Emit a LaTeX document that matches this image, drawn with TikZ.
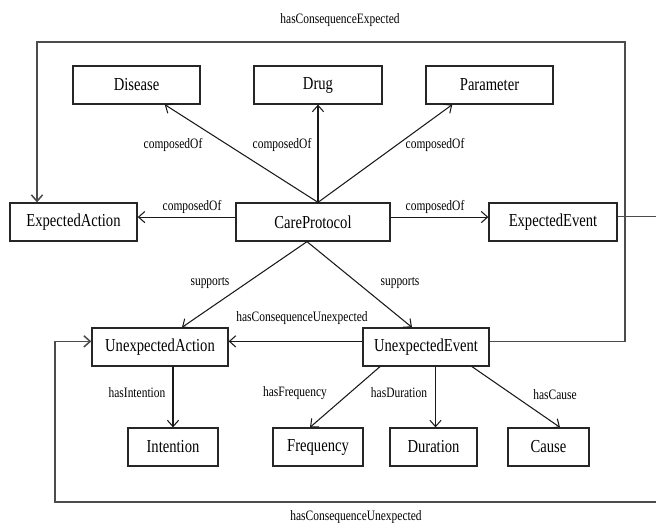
\documentclass[tikz,border=0pt]{standalone}
\usepackage{fontspec}
\setmainfont[FakeStretch=0.8]{Liberation Serif}
\usetikzlibrary{arrows.meta,calc}
\tikzset{
%Define standard arrow tip
>={Straight Barb[length=4.5pt,width=8pt]},
%Define style for the concept boxes
concept/.style={draw=black!85, line width=0.9pt, minimum height=0.95cm, inner sep=0pt, font=\fontsize{13}{15}\selectfont},
%Define style for relations, loops and their labels
relation/.style={->, line width=0.75pt, draw=black!90},
loop line/.style={->, line width=1.1pt, draw=black!70},
role/.style={inner sep=0pt, font=\fontsize{10.2}{12}\selectfont},
}

\begin{document}
\begin{tikzpicture}[x=0.025cm, y=-0.025cm]
    % Page frame, in pixels of the original
    \useasboundingbox (0,0) rectangle (656,523);

    % Concepts of the protocol
    \node[concept, minimum width=3.18cm] (disease) at (136.5,85) {Disease};
    \node[concept, minimum width=3.2cm] (drug) at (318,85) {Drug};
    \node[concept, minimum width=3.18cm] (parameter) at (489.5,85) {Parameter};
    \node[concept, minimum width=3.18cm] (expAction) at (73.5,222) {ExpectedAction};
    \node[concept, minimum width=3.85cm] (care) at (313,222) {CareProtocol};
    \node[concept, minimum width=3.2cm] (expEvent) at (553,222) {ExpectedEvent};
    \node[concept, minimum width=3.4cm] (unexpAction) at (160,347) {UnexpectedAction};
    \node[concept, minimum width=3.15cm] (unexpEvent) at (426,347) {UnexpectedEvent};
    \node[concept, minimum width=2.25cm] (intention) at (173,447) {Intention};
    \node[concept, minimum width=2.25cm] (frequency) at (318,447) {Frequency};
    \node[concept, minimum width=2.18cm] (duration) at (433.5,447) {Duration};
    \node[concept, minimum width=2.03cm] (cause) at (548.5,447) {Cause};

    % composedOf
    \coordinate (top) at (care.north -| drug.south);
    \draw[relation] (top) -- ($(disease.south west)!0.72!(disease.south east)$);
    \draw[relation] (top) -- (drug.south);
    \draw[relation] (top) -- ($(parameter.south west)!0.21!(parameter.south east)$);
    \draw[relation] ([yshift=3.5pt]care.west) -- ([yshift=3.5pt]expAction.east);
    \draw[relation] ([yshift=3.5pt]care.east) -- ([yshift=3.5pt]expEvent.west);
    \node[role] (lblDisease) at (173,145) {composedOf};
    \node[role] (lblDrug) at (282,145) {composedOf};
    \node[role] (lblParameter) at (435,145) {composedOf};
    \node[role] (lblExpAction) at (192,207) {composedOf};
    \node[role] (lblExpEvent) at (435,207) {composedOf};

    % supports
    \coordinate (bottom) at ($(care.south)+(-6,0)$);
    \draw[relation] (bottom) -- ($(unexpAction.north)+(22,0)$);
    \draw[relation] (bottom) -- ($(unexpEvent.north)+(-14,0)$);
    \node[role] (lblSupAction) at (210,283) {supports};
    \node[role] (lblSupEvent) at (400,283) {supports};

    % From the unexpected event to the unexpected action
    \draw[relation] ([yshift=4pt]unexpEvent.west) -- ([yshift=4pt]unexpAction.east);
    \node[role] (lblUnexpMid) at (302,318) {hasConsequenceUnexpected};

    % Properties of actions and events
    \draw[relation] (unexpAction.south -| intention.north) -- (intention.north);
    \draw[relation] ($(unexpEvent.south)+(-46,0)$) -- ($(frequency.north)+(-8,0)$);
    \draw[relation] ($(unexpEvent.south -| duration.north)+(2,0)$) -- ($(duration.north)+(2,0)$);
    \draw[relation] ($(unexpEvent.south)+(46,0)$) -- ($(cause.north)+(11.5,0)$);
    \node[role] (lblIntention) at (137,393) {hasIntention};
    \node[role] (lblFrequency) at (295,393) {hasFrequency};
    \node[role] (lblDuration) at (399,393) {hasDuration};
    \node[role] (lblCause) at (555,395) {hasCause};

    % Loops round the whole picture
    \coordinate (ne) at (625,42);
    \coordinate (nw) at (37,42);
    \draw[loop line] ([yshift=4pt]unexpEvent.east) -| (ne) -- (nw) -- (nw |- expAction.north);
    \node[role] (lblExpected) at (340,20) {hasConsequenceExpected};

    \coordinate (se) at (670,502);
    \coordinate (sw) at (55,502);
    \draw[loop line] ([yshift=4pt]expEvent.east) -| (se) -- (sw) |- ([yshift=4pt]unexpAction.west);
    \node[role] (lblUnexpected) at (356,517) {hasConsequenceUnexpected};
\end{tikzpicture}
\end{document}
